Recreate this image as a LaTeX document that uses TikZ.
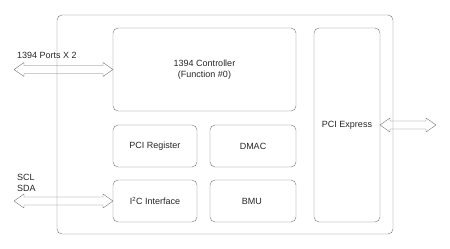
\documentclass[tikz,border=0pt]{standalone}
\usepackage{fontspec}
\setmainfont{Liberation Sans}
\usetikzlibrary{calc}

% hollow double arrow between two points (horizontal)
\newcommand{\fatarrow}[2]{%
	\draw[fat] let \p1=(#1), \p2=(#2) in
	(\x1,\y1) -- (\x1+10pt,\y1+7pt) -- (\x1+10pt,\y1+4pt) -- (\x2-10pt,\y1+4pt)
	-- (\x2-10pt,\y1+7pt) -- (\x2,\y1) -- (\x2-10pt,\y1-7pt) -- (\x2-10pt,\y1-4pt)
	-- (\x1+10pt,\y1-4pt) -- (\x1+10pt,\y1-7pt) -- cycle;}

\begin{document}
\begin{tikzpicture}[x=1pt, y=-1pt, line join=round, line cap=round,
	font=\fontsize{9}{11}\selectfont, text=black!85,
	blk/.style={draw=black!55, rounded corners=5pt, inner sep=0pt, outer sep=0pt, align=center},
	fat/.style={draw=black!55}]
	
	\useasboundingbox (0,0) rectangle (450,249);
	
	% Khung ngoài
	\draw[black!55, rounded corners=5pt] (57,15) rectangle (393,234);
	
	% Khối lớn
	\node[blk, minimum width=183pt, minimum height=83pt] (ctrl) at (204.5,69.5)
	{1394 Controller\\(Function \#0)};
	\node[blk, minimum width=66pt, minimum height=194pt] (pcie) at (347,125) {PCI Express};
	
	% Khối nhỏ
	\foreach \name/\x/\y/\w/\txt in {
		preg/155/146/84/PCI Register, dmac/253/146/86/DMAC,
		i2c/155/201/84/I\textsuperscript{2}C Interface, bmu/253/201/86/BMU
	}{
		\node[blk, minimum width=\w pt, minimum height=42pt] (\name) at (\x,\y) {\txt};
	}
	
	% Đầu ngoài
	\coordinate (p1394) at (14,69.5);
	\coordinate (pi2c) at (14,201);
	\coordinate (ppcie) at (436,125);
	
	\fatarrow{p1394}{ctrl.west}
	\fatarrow{pi2c}{i2c.west}
	\fatarrow{pcie.east}{ppcie}
	
	% Nhãn
	\node[anchor=west, inner sep=0pt] (lb1394) at (17,55) {1394 Ports X 2};
	\node[anchor=west, inner sep=0pt, align=left] (lbi2c) at (17,182.5) {SCL\\SDA};
	
\end{tikzpicture}
\end{document}
